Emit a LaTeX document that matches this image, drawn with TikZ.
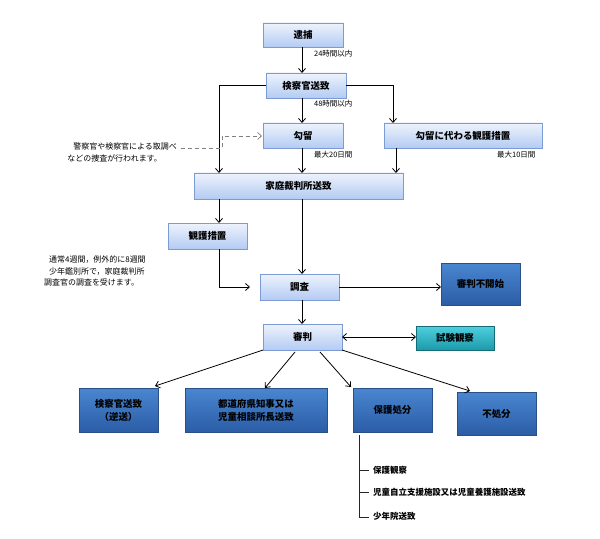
\documentclass[tikz,border=0pt]{standalone}
\usepackage{fontspec}
\setmainfont{Noto Sans CJK JP}
\usetikzlibrary{arrows.meta}
\definecolor{lt}{HTML}{EEF3FC}
\definecolor{lb}{HTML}{B3CBF3}
\definecolor{ld}{HTML}{7C9AD4}
\definecolor{dt}{HTML}{4A86D0}
\definecolor{db}{HTML}{2B5DA6}
\definecolor{dd}{HTML}{2A4F86}
\definecolor{ct}{HTML}{4FD0DE}
\definecolor{cb}{HTML}{1C9AAB}
\begin{document}
\begin{tikzpicture}[x=1bp,y=-1bp,
 light/.style={draw=ld,line width=0.6pt,top color=lt,bottom color=lb},
 dark/.style={draw=dd,line width=0.6pt,top color=dt,bottom color=db},
 cyanbox/.style={draw=cb!70!black,line width=0.6pt,top color=ct,bottom color=cb},
 arr/.style={draw,line width=0.8pt,-{Straight Barb[length=4pt,width=7pt]}},
 ln/.style={draw,line width=0.8pt},
 lbl/.style={font=\fontsize{7.5}{9}\selectfont,inner sep=0pt,anchor=west},
 note/.style={font=\fontsize{8}{12}\selectfont,inner sep=0pt,align=left}]
\useasboundingbox (0,0) rectangle (600,539);
\def\bx#1#2#3#4#5#6#7{\path[#6] (#2,#3) rectangle (#4,#5); \node[inner sep=0pt,align=center,font=\bfseries\fontsize{9.5}{13}\selectfont] (#1) at ({(#2+#4)/2},{(#3+#5)/2}) {#7};}
\bx{taiho}{263}{23}{343}{47}{light}{逮捕}
\bx{soti}{266}{73}{346}{98}{light}{検察官送致}
\bx{koryu}{263}{123}{343}{148}{light}{勾留}
\bx{kawaru}{384}{123}{542}{148}{light}{勾留に代わる観護措置}
\bx{katei}{194}{173}{403}{199}{light}{家庭裁判所送致}
\bx{kango}{168}{223}{247}{249}{light}{観護措置}
\bx{chosa}{260}{274}{339}{300}{light}{調査}
\bx{fukaishi}{441}{263}{520}{305}{dark}{審判不開始}
\bx{shinpan}{263}{324}{342}{350}{light}{審判}
\bx{shiken}{416}{326}{494}{350}{cyanbox}{試験観察}
\bx{gyaku}{79}{388}{158}{432}{dark}{検察官送致\\（逆送）}
\bx{todo}{185}{388}{327}{432}{dark}{都道府県知事又は\\児童相談所長送致}
\bx{hogo}{353}{388}{432}{432}{dark}{保護処分}
\bx{fusho}{457}{392}{536}{435}{dark}{不処分}
\coordinate (a1) at (302,47); \coordinate (a2) at (302,73);
\draw[arr] (a1) -- (a2);
\coordinate (b1) at (302,98); \coordinate (b2) at (302,123);
\draw[arr] (b1) -- (b2);
\coordinate (c1) at (266,85); \coordinate (c2) at (219,173);
\draw[arr] (c1) -| (c2);
\coordinate (d1) at (346,85); \coordinate (d2) at (393,123);
\draw[arr] (d1) -| (d2);
\coordinate (e1) at (302,148); \coordinate (e2) at (302,173);
\draw[arr] (e1) -- (e2);
\coordinate (f1) at (396,148); \coordinate (f2) at (396,173);
\draw[arr] (f1) -- (f2);
\coordinate (g1) at (219,199); \coordinate (g2) at (219,223);
\draw[arr] (g1) -- (g2);
\coordinate (h1) at (302,199); \coordinate (h2) at (302,274);
\draw[arr] (h1) -- (h2);
\coordinate (i1) at (219,249); \coordinate (i2) at (250,287);
\draw[arr] (i1) |- (i2);
\coordinate (j1) at (339,287); \coordinate (j2) at (441,287);
\draw[arr] (j1) -- (j2);
\coordinate (k1) at (302,300); \coordinate (k2) at (302,324);
\draw[arr] (k1) -- (k2);
\coordinate (l1) at (342,337); \coordinate (l2) at (416,337);
\draw[line width=0.8pt,{Straight Barb[length=4pt,width=7pt]}-{Straight Barb[length=4pt,width=7pt]}] (l1) -- (l2);
\coordinate (m0) at (263,350); \coordinate (m1) at (155,386);
\coordinate (n0) at (295,352); \coordinate (n1) at (265,388);
\coordinate (o0) at (320,352); \coordinate (o1) at (351,387);
\coordinate (p0) at (342,350); \coordinate (p1) at (470,391);
\draw[arr] (m0) -- (m1); \draw[arr] (n0) -- (n1); \draw[arr] (o0) -- (o1); \draw[arr] (p0) -- (p1);
\coordinate (q0) at (181,148); \coordinate (q1) at (222,136); \coordinate (q2) at (262,136);
\draw[gray,line width=0.7pt,dash pattern=on 4pt off 3pt,-{Straight Barb[length=4pt,width=7pt]}] (q0) -- (222,148) -- (q1) -- (q2);
\draw[ln,line width=0.7pt,gray!30!black] (359,435) -- (359,517) -- (369,517);
\draw[ln,line width=0.7pt,gray!30!black] (359,470) -- (369,470) (359,492) -- (369,492);
\node[lbl,font=\bfseries\fontsize{8.5}{10}\selectfont] (t1) at (373,470) {保護観察};
\node[lbl,font=\bfseries\fontsize{8.5}{10}\selectfont] (t2) at (373,492) {児童自立支援施設又は児童養護施設送致};
\node[lbl,font=\bfseries\fontsize{8.5}{10}\selectfont] (t3) at (373,516) {少年院送致};
\node[lbl] (L1) at (314,54) {24時間以内};
\node[lbl] (L2) at (314,104) {48時間以内};
\node[lbl] (L3) at (314,155) {最大20日間};
\node[lbl] (L4) at (497,155) {最大10日間};
\node[note,anchor=east] (N1) at (177,152) {\hspace*{6bp}警察官や検察官による取調べ\\などの捜査が行われます。};
\node[note,anchor=west] (N2) at (44,271) {\hspace*{5bp}通常4週間，例外的に8週間\\\hspace*{5bp}少年鑑別所で，家庭裁判所\\調査官の調査を受けます。};
\end{tikzpicture}
\end{document}
